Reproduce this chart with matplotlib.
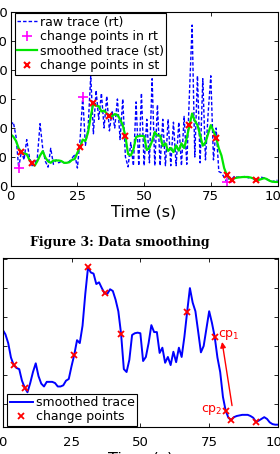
"""
plot.py  —  Data smoothing figure: raw vs smoothed trace with change points.

Produces:
  - out.png

Run:
    python3 plot.py
"""

import matplotlib
matplotlib.use("Agg")
import matplotlib.pyplot as plt

OUT_PATH = "out.png"

# ── Data ──────────────────────────────────────────────────────────────────────
time_s = list(range(0, 101))

raw_trace = [
    21, 22, 17, 6.2, 12, 9, 16, 10, 7, 7.5,
    10, 21.5, 13, 8.5, 6.5, 13, 7.5, 9, 8, 8.5,
    8, 8, 8.5, 9.5, 11, 6.2, 16, 30.7, 14, 20,
    38, 18, 33, 23, 32, 20, 31, 19, 26, 20,
    30, 16, 30, 10, 6.6, 15, 7, 29, 7, 32,
    7, 23, 8, 37, 7, 28, 7, 23, 7, 23,
    7, 22, 7, 22, 7, 24, 7.5, 32, 55.5, 10,
    38, 8, 37, 9, 25, 38, 9, 20, 5, 4.5,
    3, 1.4, 3, 2.5, 3.5, 3, 3.2, 3, 3.5, 2.8,
    3, 2.5, 2, 2.5, 3, 2.8, 2.2, 2, 1.5, 1.8,
    2,
]

smoothed_trace = [
    17.8, 17.0, 15.5, 13.0, 11.7, 11.2, 11.0, 9.0, 7.8, 7.0,
    8.6, 10.5, 12.0, 9.8, 8.5, 8.0, 8.8, 8.8, 8.8, 8.6,
    8.0, 8.0, 8.2, 9.0, 9.3, 11.5, 13.5, 16.0, 15.5, 18.5,
    24.0, 28.6, 27.7, 27.5, 25.7, 26.0, 25.0, 24.1, 24.0, 24.8,
    24.5, 23.0, 21.0, 17.1, 11.0, 10.5, 12.6, 16.9, 17.2, 17.3,
    17.2, 12.4, 13.1, 15.5, 18.6, 17.4, 17.4, 13.8, 14.7, 12.1,
    13.1, 11.7, 14.0, 12.2, 14.7, 13.1, 16.6, 20.9, 25.0, 22.5,
    21.0, 17.5, 13.9, 15.0, 18.0, 21.0, 19.0, 16.6, 13.0, 10.5,
    6.2, 3.8, 2.6, 2.2, 2.7, 2.9, 3.0, 3.1, 3.1, 3.1,
    2.9, 2.6, 1.9, 2.1, 2.4, 2.7, 2.4, 1.8, 1.5, 1.4,
    1.4,
]

rt_change_idx = [3, 27, 81]
st_change_idx = [4, 8, 26, 31, 37, 43, 67, 77, 81, 83, 92]

x_ticks = [0, 25, 50, 75, 100]
top_y_ticks = [0, 10, 20, 30, 40, 50, 60]
bottom_y_ticks = [5, 10, 15, 20, 25, 30]

CAPTION = "Figure 3: Data smoothing"

BLUE  = "#0000ff"
GREEN = "#00e600"
MAG   = "#ff00ff"
RED   = "#ff0000"


def style_axes(ax):
    ax.tick_params(direction="in", top=True, right=True, length=3,
                   width=0.6, labelsize=9.5)
    for sp in ax.spines.values():
        sp.set_linewidth(0.8)
    ax.set_xlim(0, 100)
    ax.set_xticks(x_ticks)


def make_plot():
    fig = plt.figure(figsize=(2.8, 4.54), dpi=100)

    # ── Top panel: raw vs smoothed ──────────────────────────────────────────
    ax1 = fig.add_axes([10.7 / 280, 1 - 186 / 454, 266.8 / 280, 174 / 454])
    ax1.plot(time_s, raw_trace, "--", color=BLUE, lw=1.0, dashes=(2.5, 1.5),
             label="raw trace (rt)")
    ax1.plot([time_s[i] for i in rt_change_idx], [raw_trace[i] for i in rt_change_idx],
             "+", color=MAG, ms=7, mew=1.2, label="change points in rt")
    ax1.plot(time_s, smoothed_trace, "-", color=GREEN, lw=1.6,
             label="smoothed trace (st)")
    ax1.plot([time_s[i] for i in st_change_idx], [smoothed_trace[i] for i in st_change_idx],
             "x", color=RED, ms=5, mew=1.5, label="change points in st")
    style_axes(ax1)
    ax1.set_ylim(0, 60)
    ax1.set_yticks(top_y_ticks)
    ax1.tick_params(axis="y", pad=2)
    ax1.tick_params(axis="x", pad=3)
    ax1.set_xlabel("Time (s)", fontsize=11.5, labelpad=1)
    leg = ax1.legend(loc="upper left", bbox_to_anchor=(0.016, 0.994),
                     borderaxespad=0, fontsize=9.0, handlelength=1.6,
                     handletextpad=0.2, labelspacing=0.12, borderpad=0.2,
                     fancybox=False, framealpha=1, edgecolor="black")
    leg.get_frame().set_linewidth(0.8)

    # ── Caption ─────────────────────────────────────────────────────────────
    fig.text(120 / 280, 1 - 242.5 / 454, CAPTION, ha="center", va="center",
             family="DejaVu Serif", fontweight="bold", fontsize=9)

    # ── Bottom panel: smoothed trace with change points ─────────────────────
    ax2 = fig.add_axes([2.7 / 280, 1 - 427 / 454, 275.3 / 280, 169 / 454])
    ax2.plot(time_s, smoothed_trace, "-", color=BLUE, lw=1.4, label="smoothed trace")
    ax2.plot([time_s[i] for i in st_change_idx], [smoothed_trace[i] for i in st_change_idx],
             "x", color=RED, ms=5, mew=1.3, label="change points")
    style_axes(ax2)
    ax2.set_ylim(1, 30.2)
    ax2.set_yticks(bottom_y_ticks)
    ax2.tick_params(axis="y", labelleft=False)
    ax2.tick_params(axis="x", pad=6.5)
    ax2.set_xlabel("Time (s)", fontsize=11.5, labelpad=1.5)

    ax2.annotate("", xy=(79.7, 15.7), xytext=(83.3, 4.7),
                 arrowprops=dict(arrowstyle="-|>", color=RED, lw=1.0,
                                 mutation_scale=8, shrinkA=0, shrinkB=0))
    ax2.text(78.3, 16.9, "cp$_1$", color=RED, fontsize=9, ha="left", va="center")
    ax2.text(79.8, 3.9, "cp$_2$", color=RED, fontsize=9, ha="right", va="center")

    leg2 = ax2.legend(loc="lower left", bbox_to_anchor=(0.016, 0.006),
                      borderaxespad=0, fontsize=9.0, handlelength=1.9,
                      handletextpad=0.2, labelspacing=0.1, borderpad=0.2,
                      fancybox=False, framealpha=1, edgecolor="black")
    leg2.get_frame().set_linewidth(0.8)

    fig.savefig(OUT_PATH, dpi=100)
    plt.close(fig)
    print(f"Saved → {OUT_PATH}")


if __name__ == "__main__":
    make_plot()
